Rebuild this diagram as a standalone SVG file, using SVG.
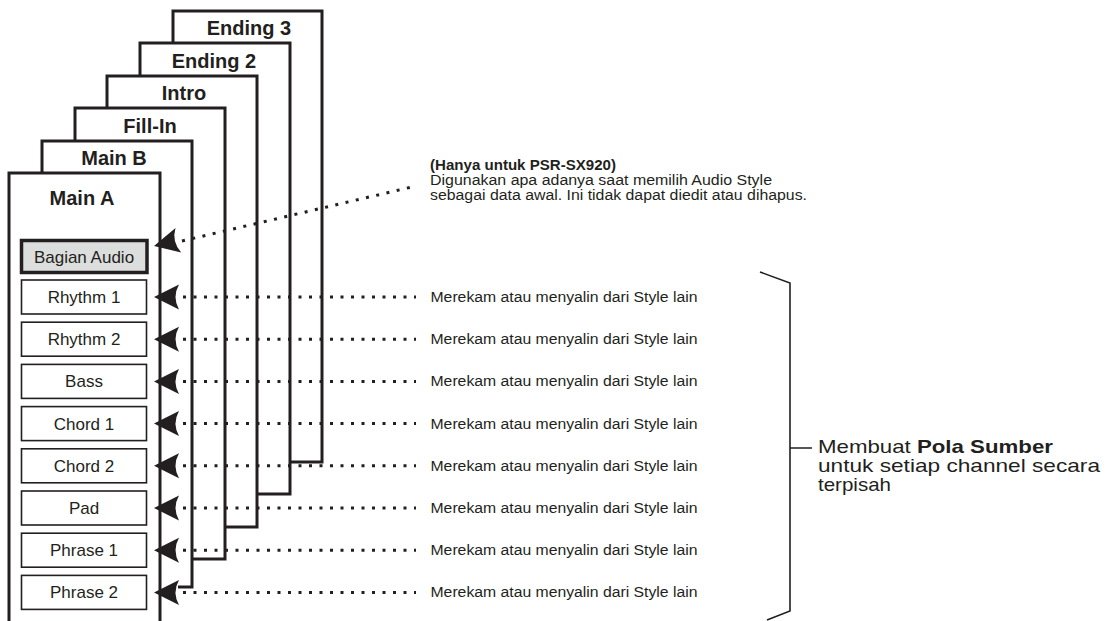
<svg xmlns="http://www.w3.org/2000/svg" width="1106" height="621" viewBox="0 0 1106 621">
<style>
.page{fill:#fff;stroke:#231f20;stroke-width:3}
.pe{fill:none;stroke:#231f20;stroke-width:3}
.title{font-family:"Liberation Sans",Arial,sans-serif;font-weight:bold;font-size:20px;fill:#231f20;text-anchor:middle}
.box{fill:#fff;stroke:#231f20;stroke-width:1.6}
.audio{fill:#dcdddd;stroke:#231f20;stroke-width:3.5}
.lbl{font-family:"Liberation Sans",Arial,sans-serif;font-size:17px;fill:#231f20;text-anchor:middle}
.dot{fill:none;stroke:#231f20;stroke-width:3;stroke-dasharray:3 7.5}
.ah{fill:#231f20}
.note{font-family:"Liberation Sans",Arial,sans-serif;font-size:14px;fill:#231f20}
.big{font-family:"Liberation Sans",Arial,sans-serif;font-size:19px;fill:#231f20}
.br{fill:none;stroke:#231f20;stroke-width:1.6}
</style>
<defs>
<path id="ah" class="ah" d="M0,0 L25,-12.5 Q18,0 25,12.5 Z"/>
</defs>

<g id="page-ending3"><rect class="page" x="173" y="11" width="149" height="451"/><text class="title" x="249" y="35">Ending 3</text></g>
<g id="page-ending2"><rect class="page" x="140" y="43" width="150" height="451"/><text class="title" x="214" y="67.5">Ending 2</text></g>
<g id="page-intro"><rect class="page" x="107" y="76" width="150" height="451"/><text class="title" x="184" y="100">Intro</text></g>
<g id="page-fillin"><rect class="page" x="75" y="108" width="150" height="451"/><text class="title" x="150" y="132.5">Fill-In</text></g>
<g id="page-mainb"><rect x="42" y="141" width="150" height="446" fill="#fff"/><path class="pe" d="M178,587 H192 V141 H42 V200"/><text class="title" x="114" y="165">Main B</text></g>
<g id="page-maina"><rect class="page" x="9" y="173" width="151" height="460"/><text class="title" x="82" y="205">Main A</text></g>

<g id="node-audio"><rect class="audio" x="21.5" y="240.5" width="125.5" height="32"/><text class="lbl" x="84" y="262.5">Bagian Audio</text></g>
<g id="node-rhythm1"><rect class="box" x="21.5" y="280" width="125" height="34"/><text class="lbl" x="84" y="303">Rhythm 1</text></g>
<g id="node-rhythm2"><rect class="box" x="21.5" y="322.2" width="125" height="34"/><text class="lbl" x="84" y="345.2">Rhythm 2</text></g>
<g id="node-bass"><rect class="box" x="21.5" y="364.4" width="125" height="34"/><text class="lbl" x="84" y="387.4">Bass</text></g>
<g id="node-chord1"><rect class="box" x="21.5" y="406.6" width="125" height="34"/><text class="lbl" x="84" y="429.6">Chord 1</text></g>
<g id="node-chord2"><rect class="box" x="21.5" y="448.8" width="125" height="34"/><text class="lbl" x="84" y="471.8">Chord 2</text></g>
<g id="node-pad"><rect class="box" x="21.5" y="491" width="125" height="34"/><text class="lbl" x="84" y="514">Pad</text></g>
<g id="node-phrase1"><rect class="box" x="21.5" y="533.2" width="125" height="34"/><text class="lbl" x="84" y="556.2">Phrase 1</text></g>
<g id="node-phrase2"><rect class="box" x="21.5" y="575.4" width="125" height="34"/><text class="lbl" x="84" y="598.4">Phrase 2</text></g>

<g id="connectors">
<line class="dot" x1="182" y1="241" x2="416" y2="186"/>
<use href="#ah" transform="translate(154,246) rotate(-13.2)"/>
<line class="dot" x1="183" y1="297" x2="416" y2="297"/><use href="#ah" x="154" y="297"/>
<line class="dot" x1="183" y1="339.2" x2="416" y2="339.2"/><use href="#ah" x="154" y="339.2"/>
<line class="dot" x1="183" y1="381.4" x2="416" y2="381.4"/><use href="#ah" x="154" y="381.4"/>
<line class="dot" x1="183" y1="423.6" x2="416" y2="423.6"/><use href="#ah" x="154" y="423.6"/>
<line class="dot" x1="183" y1="465.8" x2="416" y2="465.8"/><use href="#ah" x="154" y="465.8"/>
<line class="dot" x1="183" y1="508" x2="416" y2="508"/><use href="#ah" x="154" y="508"/>
<line class="dot" x1="183" y1="550.2" x2="416" y2="550.2"/><use href="#ah" x="154" y="550.2"/>
<line class="dot" x1="183" y1="592.4" x2="416" y2="592.4"/><use href="#ah" x="154" y="592.4"/>
</g>

<g id="notes">
<text class="note" x="430" y="170" font-weight="bold" textLength="186" lengthAdjust="spacingAndGlyphs">(Hanya untuk PSR-SX920)</text>
<text class="note" x="430" y="185" textLength="342" lengthAdjust="spacingAndGlyphs">Digunakan apa adanya saat memilih Audio Style</text>
<text class="note" x="430" y="200" textLength="377" lengthAdjust="spacingAndGlyphs">sebagai data awal. Ini tidak dapat diedit atau dihapus.</text>
<text class="note" x="430.5" y="302" textLength="267" lengthAdjust="spacingAndGlyphs">Merekam atau menyalin dari Style lain</text>
<text class="note" x="430.5" y="344.2" textLength="267" lengthAdjust="spacingAndGlyphs">Merekam atau menyalin dari Style lain</text>
<text class="note" x="430.5" y="386.4" textLength="267" lengthAdjust="spacingAndGlyphs">Merekam atau menyalin dari Style lain</text>
<text class="note" x="430.5" y="428.6" textLength="267" lengthAdjust="spacingAndGlyphs">Merekam atau menyalin dari Style lain</text>
<text class="note" x="430.5" y="470.8" textLength="267" lengthAdjust="spacingAndGlyphs">Merekam atau menyalin dari Style lain</text>
<text class="note" x="430.5" y="513" textLength="267" lengthAdjust="spacingAndGlyphs">Merekam atau menyalin dari Style lain</text>
<text class="note" x="430.5" y="555.2" textLength="267" lengthAdjust="spacingAndGlyphs">Merekam atau menyalin dari Style lain</text>
<text class="note" x="430.5" y="597.4" textLength="267" lengthAdjust="spacingAndGlyphs">Merekam atau menyalin dari Style lain</text>
</g>

<g id="bracket">
<path class="br" d="M760,272 L790,283 V611 L767,620 M790,448 H812"/>
<text class="big" x="818" y="453" textLength="235" lengthAdjust="spacingAndGlyphs">Membuat <tspan font-weight="bold">Pola Sumber</tspan></text>
<text class="big" x="818" y="472" textLength="282" lengthAdjust="spacingAndGlyphs">untuk setiap channel secara</text>
<text class="big" x="818" y="491" textLength="73" lengthAdjust="spacingAndGlyphs">terpisah</text>
</g>
</svg>
